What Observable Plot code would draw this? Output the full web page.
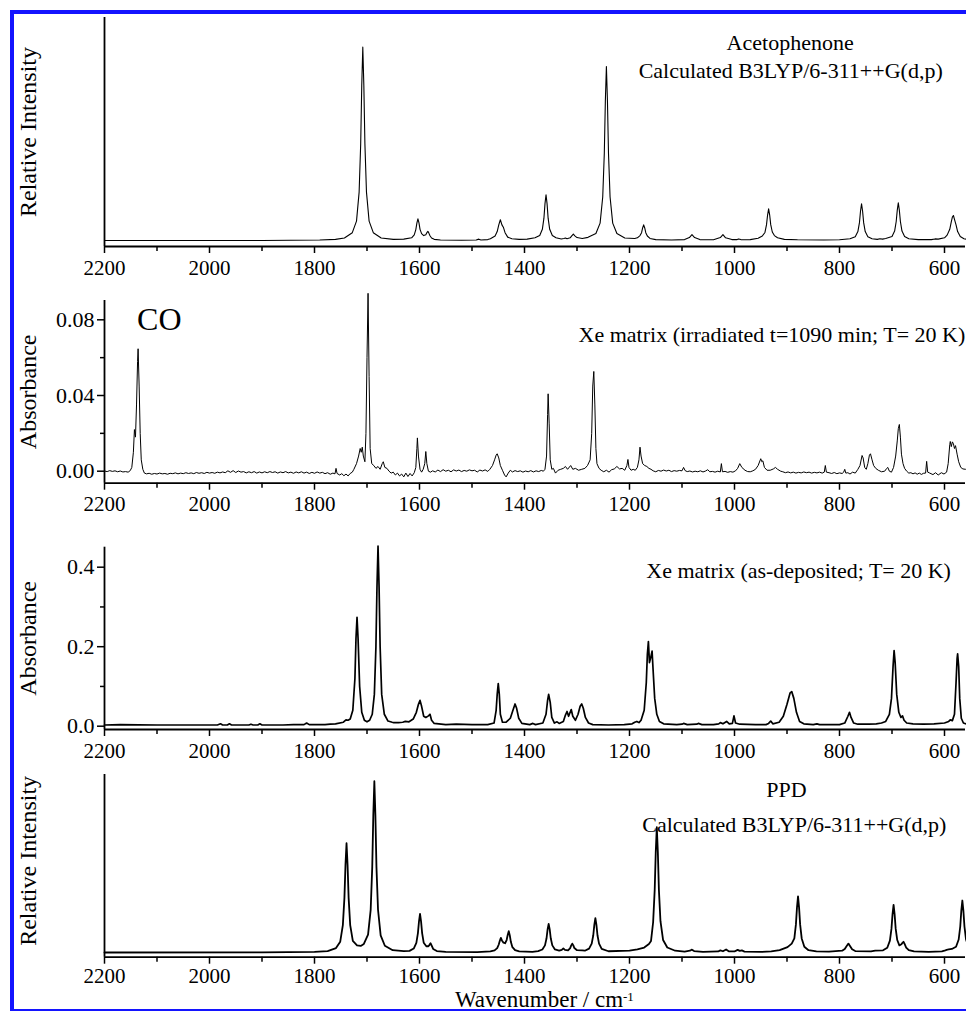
<!DOCTYPE html>
<html><head><meta charset="utf-8">
<script src="https://cdn.jsdelivr.net/npm/d3@7/dist/d3.min.js"></script>
<script src="https://cdn.jsdelivr.net/npm/@observablehq/plot@0.6/dist/plot.umd.min.js"></script>
<style>
html,body{margin:0;padding:0;background:#fff;}
#wrap{position:relative;width:966px;height:1011px;overflow:hidden;background:#fff;font-family:'Liberation Serif','Times New Roman',serif;}
#frame{position:absolute;left:10px;top:10px;width:1000px;height:995px;border-left:4px solid #1414ff;border-top:4px solid #1414ff;border-bottom:3px solid #1414ff;pointer-events:none;z-index:5;}
#xlabel{position:absolute;left:455px;top:993px;height:14px;font-size:23px;line-height:14px;white-space:nowrap;color:#000;z-index:4;}
#xlabel sup{font-size:13px;line-height:0;vertical-align:6px;}
svg text{font-family:'Liberation Serif','Times New Roman',serif;}
</style>
</head><body>
<div id="wrap"><div id="frame"></div><div id="xlabel">Wavenumber / cm<sup>-1</sup></div></div>
<script>
// ---------- data ----------
const xMajor = [2200, 2000, 1800, 1600, 1400, 1200, 1000, 800, 600];
const xMinor = [2100, 1900, 1700, 1500, 1300, 1100, 900, 700];
const xDomain = [2200, 560];

// Panel 1: Acetophenone, calculated (wavenumber, relative intensity)
const acetophenoneCalc = [
[2200,0],[1900,0],[1790,0.002],[1760,0.005],[1743,0.011],[1728,0.035],[1720,0.087],[1715,0.217],[1712,0.434],[1710,0.694],[1708,0.867],[1706,0.694],[1704,0.434],[1701,0.217],[1696,0.087],[1688,0.035],[1673,0.011],[1650,0.005],
[1630,0.006],[1615,0.012],[1610,0.025],[1607,0.049],[1605,0.078],[1603,0.097],[1601,0.079],[1599,0.050],[1596,0.031],[1592,0.022],[1588,0.026],[1586,0.035],[1584,0.041],[1582,0.032],[1580,0.021],[1577,0.011],[1572,0.005],[1560,0.002],[1520,0.001],
[1492,0.002],[1487,0.006],[1483,0.002],[1470,0.004],
[1465,0.008],[1456,0.020],[1452,0.040],[1449,0.070],[1446,0.093],[1443,0.070],[1440,0.058],[1437,0.035],[1432,0.015],[1424,0.008],[1410,0.005],
[1395,0.006],[1380,0.012],[1371,0.022],[1366,0.050],[1363,0.100],[1361,0.164],[1359,0.205],[1357,0.164],[1355,0.100],[1352,0.050],[1347,0.022],[1340,0.012],[1330,0.007],[1325,0.009],[1322,0.011],[1319,0.008],[1313,0.012],[1310,0.021],[1307,0.029],[1304,0.021],[1300,0.013],[1290,0.009],[1279,0.014],[1264,0.031],[1256,0.078],[1251,0.195],[1248,0.390],[1246,0.624],[1244,0.780],[1242,0.624],[1240,0.390],[1237,0.195],[1232,0.078],[1224,0.031],[1209,0.011],[1190,0.009],
[1185,0.012],[1180,0.022],[1177,0.035],[1175,0.056],[1173,0.070],[1171,0.056],[1169,0.035],[1166,0.020],[1161,0.009],[1150,0.004],[1120,0.002],[1095,0.004],[1086,0.013],[1081,0.026],[1076,0.013],[1066,0.004],[1040,0.003],[1027,0.013],[1022,0.026],[1017,0.012],[1005,0.004],[995,0.004],[992,0.007],[988,0.004],[975,0.003],
[970,0.004],[955,0.010],[947,0.020],[942,0.036],[939,0.071],[937,0.114],[935,0.142],[933,0.114],[931,0.071],[928,0.038],[924,0.022],[918,0.012],[905,0.005],[880,0.003],[830,0.002],
[800,0.003],[780,0.008],[770,0.017],[765,0.040],[762,0.080],[760,0.131],[758,0.164],[756,0.131],[754,0.080],[751,0.040],[746,0.017],[738,0.008],[728,0.005],[723,0.008],[718,0.006],
[712,0.009],[700,0.018],[695,0.042],[692,0.085],[690,0.135],[688,0.169],[686,0.135],[684,0.085],[681,0.042],[676,0.018],[668,0.008],[650,0.004],[625,0.004],[618,0.007],[612,0.006],
[600,0.012],[595,0.024],[590,0.050],[587,0.085],[585,0.105],[583,0.112],[581,0.095],[578,0.070],[575,0.040],[570,0.018],[563,0.008],[555,0.004]
];

// Panel 2: Xe matrix, irradiated 1090 min (wavenumber, absorbance)
const xeIrradiated = [
[2200,0.0001],[2195,-0.0002],[2190,0.0003],[2185,-0.0001],[2180,0.0002],[2175,-0.0003],[2170,0.0001],[2165,-0.0004],[2160,-0.0002],[2155,-0.0005],[2151,0.0003],
[2148,0.0020],[2145,0.0100],[2143,0.0220],[2141,0.0180],[2139,0.0350],[2137,0.0580],[2136,0.0647],[2134,0.0450],[2132,0.0200],[2130,0.0060],[2127,0.0010],[2124,-0.0010],
[2120,-0.0014],[2115,-0.0011],[2110,-0.0016],[2105,-0.0012],[2100,-0.0015],[2095,-0.0010],[2090,-0.0014],[2085,-0.0012],[2080,-0.0016],[2075,-0.0011],[2070,-0.0013],[2065,-0.0009],[2060,-0.0014],[2055,-0.0010],[2050,-0.0013],[2045,-0.0008],[2040,-0.0012],[2035,-0.0009],[2030,-0.0013],[2025,-0.0007],[2020,-0.0011],[2015,-0.0008],[2010,-0.0012],[2005,-0.0006],[2000,-0.0010],[1995,-0.0007],[1990,-0.0011],[1985,-0.0005],[1980,-0.0009],[1975,-0.0004],[1970,-0.0008],[1965,0.0002],[1960,-0.0006],[1955,0.0003],[1950,-0.0007],[1945,0.0001],[1940,-0.0005],[1935,-0.0002],[1930,-0.0009],[1925,-0.0003],[1920,-0.0008],[1915,-0.0002],[1910,-0.0010],[1905,-0.0004],[1900,-0.0009],[1895,-0.0003],[1890,-0.0008],[1885,-0.0002],[1880,-0.0007],[1875,-0.0003],[1870,-0.0010],[1865,-0.0004],[1860,-0.0008],[1855,-0.0002],[1850,-0.0009],[1845,-0.0005],[1840,-0.0011],[1835,-0.0004],[1830,-0.0009],[1825,-0.0003],[1820,-0.0010],[1815,-0.0005],[1810,-0.0012],[1805,-0.0006],[1800,-0.0011],[1795,-0.0004],[1790,-0.0010],[1785,-0.0006],[1780,-0.0013],[1775,-0.0008],[1770,-0.0016],[1765,-0.0010],[1761,-0.0014],[1759,0.0015],[1757,-0.0012],[1752,-0.0020],[1748,-0.0013],[1744,-0.0024],[1740,-0.0015],[1736,-0.0025],[1732,-0.0012],[1728,-0.0005],
[1725,0.0010],[1720,0.0040],[1716,0.0080],[1713,0.0120],[1711,0.0100],[1709,0.0127],[1707,0.0080],[1704,0.0050],[1702,0.0200],[1700,0.0600],[1698,0.0940],[1696,0.0500],[1694,0.0120],[1691,0.0040],[1687,0.0030],[1683,0.0015],[1679,0.0025],[1675,0.0010],[1671,0.0040],[1669,0.0050],[1666,0.0020],[1662,0.0015],[1658,0.0000],[1654,-0.0010],[1650,-0.0005],[1646,-0.0020],[1642,-0.0010],[1638,-0.0025],[1634,-0.0015],[1630,-0.0030],[1626,-0.0010],[1622,-0.0028],[1618,-0.0012],[1614,-0.0025],[1610,-0.0008],
[1607,0.0020],[1605,0.0120],[1604,0.0176],[1602,0.0080],[1599,0.0010],[1596,-0.0005],[1593,0.0010],[1590,0.0040],[1588,0.0104],[1586,0.0040],[1583,0.0000],[1579,-0.0005],
[1575,0.0002],[1570,-0.0004],[1565,0.0006],[1560,-0.0002],[1555,0.0008],[1550,0.0000],[1545,0.0005],[1540,-0.0003],[1535,0.0007],[1530,0.0001],[1525,0.0006],[1520,-0.0002],[1515,0.0004],[1510,0.0000],[1505,0.0007],[1500,0.0002],[1495,0.0005],[1490,-0.0004],[1485,0.0006],[1480,0.0001],[1475,0.0007],[1470,-0.0001],
[1466,0.0010],[1461,0.0030],[1457,0.0060],[1454,0.0085],[1452,0.0092],[1449,0.0070],[1446,0.0030],[1442,0.0005],[1438,-0.0020],[1435,-0.0030],[1431,-0.0010],[1427,0.0005],
[1423,-0.0004],[1418,0.0003],[1413,-0.0002],[1408,0.0002],[1403,-0.0005],[1398,0.0001],[1393,-0.0003],[1388,0.0003],[1383,-0.0004],[1378,0.0002],[1373,-0.0002],[1368,0.0004],[1364,0.0000],
[1361,0.0010],[1358,0.0080],[1356,0.0300],[1355,0.0409],[1353,0.0250],[1351,0.0060],[1348,0.0010],[1345,0.0015],[1341,-0.0010],[1336,0.0005],[1331,0.0010],[1326,0.0015],[1322,0.0025],[1318,0.0010],[1312,0.0030],[1308,0.0010],[1303,0.0015],[1297,0.0005],[1291,0.0010],[1285,0.0015],[1280,0.0030],[1275,0.0060],[1272,0.0200],[1270,0.0450],[1268,0.0527],[1266,0.0350],[1264,0.0120],[1262,0.0040],[1258,0.0015],[1254,0.0005],[1249,-0.0003],[1244,0.0005],[1239,-0.0005],[1234,0.0008],[1229,0.0012],[1224,0.0025],[1219,0.0012],[1214,0.0015],[1209,0.0005],[1205,0.0030],[1203,0.0062],[1201,0.0020],[1197,0.0005],[1193,0.0010],[1189,0.0005],[1185,0.0020],[1182,0.0060],[1180,0.0127],[1178,0.0080],[1175,0.0040],[1171,0.0030],[1167,0.0025],[1163,0.0015],[1159,0.0010],
[1155,0.0002],[1150,-0.0003],[1145,0.0004],[1140,0.0000],[1135,0.0006],[1130,0.0001],[1125,0.0005],[1120,-0.0002],[1115,0.0003],[1110,0.0000],[1105,0.0004],[1100,0.0002],[1097,0.0020],[1094,0.0003],[1090,-0.0002],[1085,0.0001],[1080,-0.0004],[1075,0.0000],[1070,-0.0003],[1065,0.0002],[1060,-0.0004],[1055,0.0001],[1051,0.0008],[1047,-0.0003],[1042,-0.0001],[1037,-0.0005],[1032,0.0000],[1027,-0.0004],[1025,0.0040],[1023,-0.0003],[1018,-0.0001],[1013,-0.0006],[1008,-0.0002],[1003,-0.0005],[998,0.0002],
[994,0.0015],[990,0.0040],[986,0.0020],[980,0.0005],[975,-0.0002],[970,-0.0003],[965,0.0002],[960,0.0010],[955,0.0030],[950,0.0066],[948,0.0050],[946,0.0055],[943,0.0020],[938,0.0005],[932,0.0005],[926,0.0012],[922,0.0020],[918,0.0010],[912,0.0000],
[908,-0.0003],[903,-0.0008],[898,-0.0004],[893,-0.0009],[888,-0.0005],[883,-0.0010],[878,-0.0006],[873,-0.0009],[868,-0.0004],[863,-0.0008],[858,-0.0005],[853,-0.0010],[848,-0.0006],[843,-0.0009],[838,-0.0005],[833,-0.0010],
[829,-0.0005],[827,0.0030],[825,-0.0005],[820,-0.0008],[815,-0.0012],[810,-0.0007],[805,-0.0013],[800,-0.0009],[795,-0.0012],
[792,-0.0005],[790,0.0010],[788,-0.0010],[784,-0.0008],[780,-0.0015],[775,-0.0005],[770,-0.0010],[765,0.0010],[761,0.0030],[757,0.0083],[755,0.0070],[752,0.0020],[749,0.0010],[746,0.0040],[743,0.0085],[741,0.0092],[738,0.0060],[735,0.0030],[731,0.0015],[726,0.0005],[720,-0.0003],[714,0.0000],[710,0.0015],[708,0.0020],[705,0.0000],[701,-0.0005],[697,0.0020],[693,0.0080],[690,0.0160],[688,0.0225],[686,0.0247],[684,0.0180],[682,0.0090],[679,0.0040],[676,0.0015],[672,0.0000],[668,-0.0010],
[664,-0.0008],[660,-0.0014],[656,-0.0009],[652,-0.0016],[648,-0.0010],[644,-0.0017],[640,-0.0011],
[636,-0.0010],[634,0.0052],[632,-0.0005],[628,-0.0010],[622,-0.0018],[617,-0.0008],[612,-0.0020],[606,-0.0008],[601,-0.0015],[596,-0.0005],[593,0.0040],[590,0.0140],[589,0.0157],[587,0.0130],[585,0.0155],[583,0.0145],[581,0.0120],[579,0.0135],[576,0.0090],[573,0.0050],[569,0.0020],[565,0.0012],[560,0.0010],[556,0.0005]
];

// Panel 3: Xe matrix, as-deposited (wavenumber, absorbance)
const xeDeposited = [
[2200,0.003],[2170,0.004],[2100,0.003],[2000,0.003],[1985,0.003],[1979,0.006],[1975,0.003],[1966,0.003],[1962,0.006],[1958,0.003],[1925,0.003],[1921,0.005],[1917,0.003],[1908,0.003],[1904,0.006],[1900,0.003],[1860,0.003],[1840,0.004],[1820,0.004],[1815,0.008],[1810,0.004],[1780,0.004],[1770,0.005],[1760,0.006],
[1745,0.010],[1740,0.016],[1736,0.015],[1732,0.018],[1727,0.040],[1723,0.120],[1721,0.220],[1719,0.274],[1717,0.220],[1714,0.100],[1710,0.035],[1705,0.015],[1700,0.011],
[1695,0.015],[1690,0.030],[1686,0.080],[1683,0.200],[1681,0.350],[1679,0.453],[1677,0.350],[1675,0.200],[1672,0.080],[1667,0.030],[1660,0.013],[1652,0.010],[1649,0.009],[1640,0.009],[1632,0.010],[1627,0.012],[1620,0.011],[1612,0.018],
[1606,0.035],[1602,0.055],[1599,0.065],[1596,0.050],[1592,0.025],[1588,0.022],[1583,0.026],[1580,0.030],[1577,0.015],[1572,0.007],[1550,0.004],[1530,0.005],[1500,0.004],[1470,0.004],
[1458,0.008],[1454,0.040],[1452,0.080],[1450,0.107],[1448,0.080],[1446,0.030],[1442,0.010],[1435,0.010],[1427,0.020],[1422,0.040],[1418,0.056],[1415,0.045],[1411,0.020],[1405,0.007],[1390,0.004],[1384,0.007],[1379,0.004],
[1365,0.008],[1359,0.030],[1356,0.065],[1354,0.080],[1351,0.060],[1348,0.022],[1343,0.008],[1338,0.011],[1334,0.007],[1326,0.012],[1322,0.028],[1319,0.037],[1316,0.025],[1311,0.042],[1308,0.025],[1303,0.015],[1298,0.030],[1294,0.050],[1291,0.056],[1288,0.045],[1284,0.022],[1278,0.008],[1270,0.004],
[1240,0.003],[1210,0.004],[1195,0.006],[1190,0.010],[1186,0.012],[1182,0.009],[1178,0.015],[1172,0.040],[1168,0.110],[1166,0.180],[1164,0.213],[1162,0.160],[1160,0.170],[1157,0.189],[1155,0.140],[1152,0.070],[1148,0.030],[1143,0.012],[1135,0.006],
[1110,0.004],[1100,0.005],[1097,0.007],[1090,0.004],[1072,0.005],[1069,0.007],[1062,0.004],[1040,0.004],[1030,0.006],[1027,0.009],[1022,0.006],[1015,0.012],[1010,0.006],[1004,0.007],[1001,0.026],[998,0.008],[990,0.005],
[960,0.004],[940,0.004],[935,0.007],[931,0.013],[927,0.006],[915,0.010],[907,0.025],[900,0.055],[894,0.084],[891,0.087],[887,0.070],[882,0.035],[876,0.012],[868,0.006],[850,0.004],[843,0.006],[838,0.004],
[800,0.004],[790,0.008],[784,0.025],[781,0.035],[778,0.022],[773,0.008],[765,0.005],[745,0.005],[730,0.006],[720,0.008],[712,0.012],[705,0.030],[701,0.070],[698,0.150],[696,0.190],[694,0.160],[691,0.080],[687,0.035],[683,0.022],[680,0.026],[677,0.015],[672,0.008],[660,0.006],
[640,0.005],[620,0.006],[600,0.008],[592,0.012],[589,0.016],[585,0.014],[581,0.030],[578,0.110],[576,0.170],[575,0.182],[573,0.150],[571,0.070],[568,0.020],[564,0.008],[556,0.005]
];

// Panel 4: PPD, calculated (wavenumber, relative intensity)
const ppdCalc = [
[2200,0],[1900,0.001],[1800,0.003],[1775,0.008],[1759,0.025],[1751,0.061],[1746,0.154],[1743,0.307],[1741,0.491],[1739,0.614],[1737,0.491],[1735,0.307],[1732,0.154],[1727,0.065],[1719,0.040],[1712,0.037],[1706,0.048],
[1698,0.100],[1693,0.240],[1690,0.481],[1688,0.770],[1686,0.962],[1684,0.770],[1682,0.481],[1679,0.240],[1674,0.096],[1666,0.038],[1651,0.013],[1630,0.008],
[1619,0.009],[1611,0.022],[1606,0.054],[1603,0.109],[1601,0.174],[1599,0.217],[1597,0.174],[1595,0.109],[1592,0.055],[1587,0.035],[1583,0.035],[1581,0.043],[1579,0.052],[1577,0.040],[1574,0.020],[1567,0.008],[1550,0.003],[1490,0.002],
[1465,0.006],[1457,0.012],[1452,0.025],[1449,0.045],[1447,0.066],[1445,0.082],[1443,0.068],[1440,0.055],[1437,0.052],[1434,0.070],[1432,0.098],[1430,0.120],[1428,0.096],[1426,0.060],[1423,0.030],[1418,0.013],[1410,0.006],
[1385,0.004],[1374,0.008],[1366,0.017],[1361,0.040],[1358,0.080],[1356,0.130],[1354,0.161],[1352,0.130],[1350,0.080],[1347,0.040],[1342,0.017],[1334,0.010],[1329,0.015],[1326,0.023],[1323,0.015],[1317,0.012],[1313,0.025],[1311,0.040],[1309,0.050],[1307,0.040],[1305,0.025],[1300,0.013],[1290,0.012],[1285,0.010],
[1277,0.022],[1272,0.050],[1269,0.097],[1267,0.155],[1265,0.193],[1263,0.155],[1261,0.097],[1258,0.050],[1253,0.020],[1240,0.007],[1200,0.010],
[1185,0.018],[1172,0.028],[1163,0.048],[1159,0.065],[1155,0.170],[1152,0.352],[1150,0.563],[1148,0.704],[1146,0.563],[1144,0.352],[1141,0.176],[1136,0.070],[1128,0.028],[1113,0.010],[1095,0.005],
[1085,0.010],[1081,0.016],[1077,0.008],[1060,0.003],[1031,0.006],[1027,0.012],[1022,0.007],[1016,0.017],[1011,0.007],[1000,0.006],[994,0.015],[990,0.009],[986,0.012],[981,0.005],[950,0.003],
[930,0.006],[914,0.013],[899,0.030],[891,0.050],[886,0.079],[883,0.158],[881,0.252],[879,0.315],[877,0.252],[875,0.158],[872,0.079],[867,0.032],[859,0.013],[844,0.006],[820,0.005],
[795,0.010],[790,0.020],[786,0.038],[783,0.050],[780,0.037],[776,0.018],[770,0.008],[740,0.006],[732,0.011],[717,0.012],
[709,0.027],[704,0.067],[701,0.134],[699,0.214],[697,0.268],[695,0.214],[693,0.134],[690,0.070],[686,0.040],[682,0.046],[680,0.055],[678,0.060],[676,0.048],[673,0.028],[668,0.013],[658,0.006],[630,0.003],
[605,0.006],[600,0.010],[596,0.015],[592,0.017],[586,0.020],[578,0.032],[573,0.073],[570,0.146],[568,0.234],[566,0.292],[564,0.234],[562,0.146],[559,0.073],[554,0.030]
];

// annotations (wavenumber / value anchors)
const notes1 = [{wn: 894, v: 0.855, text: "Acetophenone"}, {wn: 893, v: 0.730, text: "Calculated B3LYP/6-311++G(d,p)"}];
const notes2 = [{wn: 1297, v: 0.0682, text: "Xe matrix (irradiated t=1090 min; T= 20 K)"}];
const notes2big = [{wn: 2138, v: 0.0744, text: "CO"}];
const notes3 = [{wn: 1168, v: 0.372, text: "Xe matrix (as-deposited; T= 20 K)"}];
const notes4 = [{wn: 901, v: 0.872, text: "PPD"}, {wn: 886, v: 0.676, text: "Calculated B3LYP/6-311++G(d,p)"}];

// ---------- layout ----------
const panels = [
  {data: acetophenoneCalc, top: 0, height: 282, mt: 17, mb: 36, yDomain: [-0.027, 1], yLabel: "Relative Intensity", sw: 1.1, pad: 7, center: notes1, start: [], big: []},
  {data: xeIrradiated, top: 282, height: 246, mt: 18, mb: 45.3, yDomain: [-0.00634, 0.0902], yMajor: [0, 0.04, 0.08], yMinor: [0.02, 0.06], fmt: ".2f", yLabel: "Absorbance", sw: 1.0, pad: 6, center: [], start: notes2, big: notes2big},
  {data: xeDeposited, top: 528, height: 240, mt: 18.7, mb: 39, yDomain: [-0.0083, 0.4503], yMajor: [0, 0.2, 0.4], yMinor: [0.1, 0.3], fmt: ".1f", yLabel: "Absorbance", sw: 1.7, pad: 7, center: [], start: notes3, big: []},
  {data: ppdCalc, top: 768, height: 243, mt: 6, mb: 54.3, yDomain: [-0.0264, 1], yLabel: "Relative Intensity", labelDy: -5, sw: 1.8, pad: 4, center: notes4, start: [], big: []}
];

const FONT = "'Liberation Serif', 'Times New Roman', serif";
const wrap = document.getElementById("wrap");

panels.forEach(p => {
  const marks = [
    Plot.axisX({ticks: xMajor, tickSize: 7, tickPadding: p.pad, tickFormat: d => String(d), fontSize: 21, fontFamily: FONT, strokeWidth: 1.5, label: null}),
    Plot.axisX({ticks: xMinor, tickSize: 5, tickFormat: () => "", strokeWidth: 1.5, label: null})
  ];
  if (p.yMajor) {
    marks.push(Plot.axisY({ticks: p.yMajor, tickSize: 7, tickPadding: 3, tickFormat: d3.format(p.fmt), fontSize: 22, fontFamily: FONT, strokeWidth: 1.5, label: null}));
    marks.push(Plot.axisY({ticks: p.yMinor, tickSize: 4, tickFormat: () => "", strokeWidth: 1.5, label: null}));
  }
  marks.push(Plot.ruleX([xDomain[0]], {stroke: "black", strokeWidth: 1.8}));
  marks.push(Plot.ruleY([p.yDomain[0]], {stroke: "black", strokeWidth: 1.8}));
  marks.push(Plot.line(p.data, {x: d => d[0], y: d => d[1], stroke: "black", strokeWidth: p.sw}));
  marks.push(Plot.text([p.yLabel], {text: d => d, frameAnchor: "left", dx: -76, dy: p.labelDy || 0, rotate: -90, textAnchor: "middle", lineAnchor: "middle", fontSize: 24, fontFamily: FONT, fill: "black"}));
  if (p.center.length) marks.push(Plot.text(p.center, {x: "wn", y: "v", text: "text", textAnchor: "middle", lineAnchor: "bottom", fontSize: 22, fontFamily: FONT, fill: "black"}));
  if (p.start.length) marks.push(Plot.text(p.start, {x: "wn", y: "v", text: "text", textAnchor: "start", lineAnchor: "bottom", fontSize: 22, fontFamily: FONT, fill: "black"}));
  if (p.big.length) marks.push(Plot.text(p.big, {x: "wn", y: "v", text: "text", textAnchor: "start", lineAnchor: "bottom", fontSize: 32, fontFamily: FONT, fill: "black"}));

  const svg = Plot.plot({
    width: 966,
    height: p.height,
    marginLeft: 104,
    marginRight: 1,
    marginTop: p.mt,
    marginBottom: p.mb,
    x: {domain: xDomain},
    y: {domain: p.yDomain, axis: p.yMajor ? undefined : null},
    style: {background: "transparent", fontFamily: FONT, fontSize: "24px", color: "black", overflow: "visible"},
    marks
  });
  svg.style.position = "absolute";
  svg.style.left = "0px";
  svg.style.top = p.top + "px";
  svg.style.maxWidth = "none";
  wrap.appendChild(svg);
});
</script>
</body></html>
